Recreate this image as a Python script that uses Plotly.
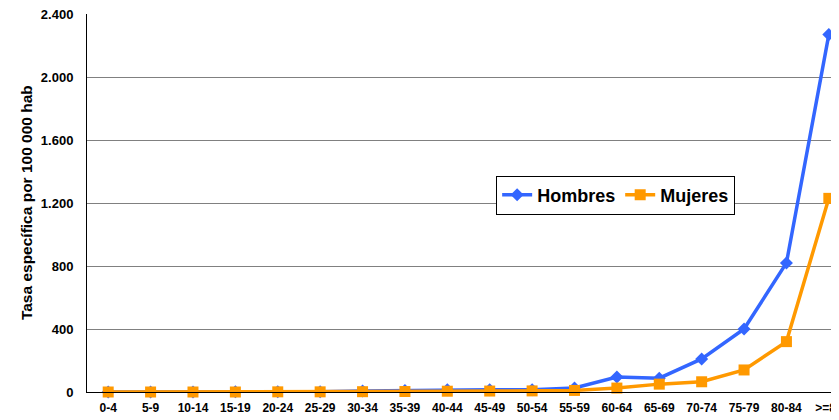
import plotly.graph_objects as go

AGE_GROUPS = ["0-4", "5-9", "10-14", "15-19", "20-24", "25-29", "30-34", "35-39", "40-44",
              "45-49", "50-54", "55-59", "60-64", "65-69", "70-74", "75-79", "80-84", ">=85"]
HOMBRES = [0, 0, 0, 1, 2, 2, 7, 10, 14, 15, 14, 25, 95, 88, 210, 400, 820, 2270]
MUJERES = [0, 0, 0, 0, 1, 1, 2, 3, 5, 6, 7, 10, 25, 50, 65, 140, 320, 1230]
Y_TICKS = [0, 400, 800, 1200, 1600, 2000, 2400]
Y_TITLE = "Tasa específica por 100 000 hab"

fig = go.Figure()
fig.add_trace(
    go.Scatter(
        x=AGE_GROUPS,
        y=HOMBRES,
        mode="lines+markers",
        name="Hombres",
        line=dict(color="#3366FF", width=3.5),
        marker=dict(symbol="diamond", size=10, color="#3366FF"),
        cliponaxis=False,
    )
)
fig.add_trace(
    go.Scatter(
        x=AGE_GROUPS,
        y=MUJERES,
        mode="lines+markers",
        name="Mujeres",
        line=dict(color="#FF9900", width=3.5),
        marker=dict(symbol="square", size=11, color="#FF9900"),
        cliponaxis=False,
    )
)

# y title as annotation so it sits where the original has it
fig.add_annotation(
    text=Y_TITLE,
    xref="paper",
    yref="paper",
    x=-0.081,
    y=0.5,
    xanchor="center",
    yanchor="middle",
    textangle=-90,
    showarrow=False,
    font=dict(size=15.5, weight="bold"),
)

# page body has an 8px margin, so the figure is shrunk by that amount
fig.update_layout(
    width=831,
    height=412,
    margin=dict(l=79, r=0, t=6, b=28, autoexpand=False),
    paper_bgcolor="white",
    plot_bgcolor="white",
    separators=",.",
    font=dict(family="Liberation Sans, Arial, sans-serif", color="black", weight="bold"),
    legend=dict(
        orientation="h",
        x=0.703,
        y=0.521,
        xanchor="center",
        yanchor="middle",
        bgcolor="white",
        bordercolor="black",
        borderwidth=1,
        font=dict(size=18, weight="bold"),
        itemwidth=30,
        tracegroupgap=0,
    ),
)
fig.update_xaxes(
    type="category",
    range=[-0.5, 17.24],
    automargin=False,
    showline=True,
    linecolor="black",
    linewidth=1,
    showgrid=False,
    ticks="",
    ticklabelstandoff=5,
    ticklabeloverflow="allow",
    tickfont=dict(size=12, weight="bold"),
)
fig.update_yaxes(
    range=[0, 2401],
    tickvals=Y_TICKS,
    tickformat=",d",
    automargin=False,
    showline=True,
    linecolor="black",
    linewidth=1,
    showgrid=True,
    gridcolor="#808080",
    gridwidth=1,
    zeroline=False,
    ticks="",
    ticklabelstandoff=10,
    ticklabeloverflow="allow",
    tickfont=dict(size=13, weight="bold"),
)

fig.write_html("out.html")
